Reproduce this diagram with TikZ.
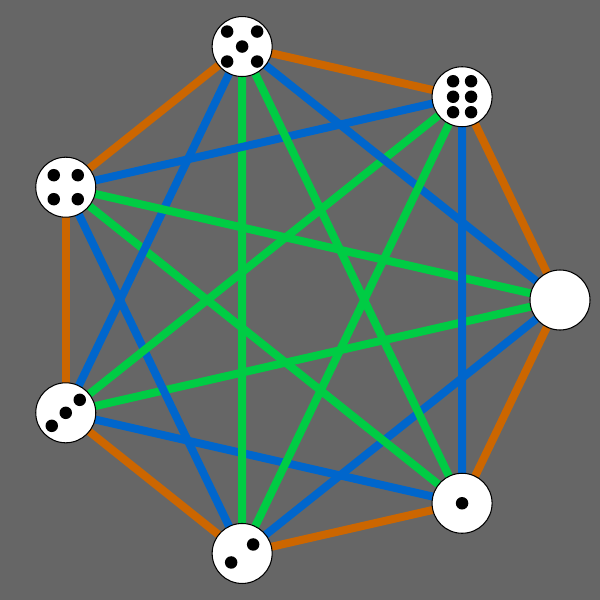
\documentclass[tikz,border=0pt]{standalone}
\usepackage{xcolor}
\usepackage{tikz}
\usetikzlibrary{backgrounds}

\definecolor{bggray}{HTML}{666666}
\definecolor{edgeorange}{HTML}{CC6600}
\definecolor{edgeblue}{HTML}{0066CC}
\definecolor{edgegreen}{HTML}{00CC44}

\pgfdeclarelayer{edges}
\pgfsetlayers{background,edges,main}

\begin{document}
\begin{tikzpicture}[
		face/.style={circle, draw=black, fill=white, line width=0.6pt, minimum size=1.2cm, inner sep=0pt},
		pip/.style={fill=black},
		link/.style={line width=0.16cm}
	]
				\begin{pgfonlayer}{background}
					\fill[bggray] (-6,-6) rectangle (6,6);
				\end{pgfonlayer}
				
				% the seven faces round the circle
				\foreach \i in {0,...,6}
					\node[face] (n\i) at ({-\i*360/7}:5.2) {};
				
				% links: neighbours, two apart, three apart
				\begin{pgfonlayer}{edges}
					\foreach \i in {0,...,6}
						\foreach \d/\c in {1/edgeorange,2/edgeblue,3/edgegreen} {
							\pgfmathtruncatemacro\j{mod(\i+\d,7)}
							\draw[link,\c] (n\i.center) -- (n\j.center);
						}
				\end{pgfonlayer}
				
				% pips
				\fill[pip] (n1.center) circle (0.125);
				\foreach \x/\y in {0.22/0.18,-0.22/-0.18}
					\fill[pip] ([shift={(\x,\y)}]n2.center) circle (0.125);
				\foreach \x/\y in {0.28/0.26,0/0,-0.28/-0.26}
					\fill[pip] ([shift={(\x,\y)}]n3.center) circle (0.125);
				\foreach \x/\y in {0.24/0.24,-0.24/0.24,0.24/-0.24,-0.24/-0.24}
					\fill[pip] ([shift={(\x,\y)}]n4.center) circle (0.125);
				\foreach \x/\y in {0.3/0.3,-0.3/0.3,0/0,0.3/-0.3,-0.3/-0.3}
					\fill[pip] ([shift={(\x,\y)}]n5.center) circle (0.125);
				\foreach \x/\y in {0.18/0.31,-0.18/0.31,0.18/0,-0.18/0,0.18/-0.31,-0.18/-0.31}
					\fill[pip] ([shift={(\x,\y)}]n6.center) circle (0.125);
			\end{tikzpicture}
\end{document}
